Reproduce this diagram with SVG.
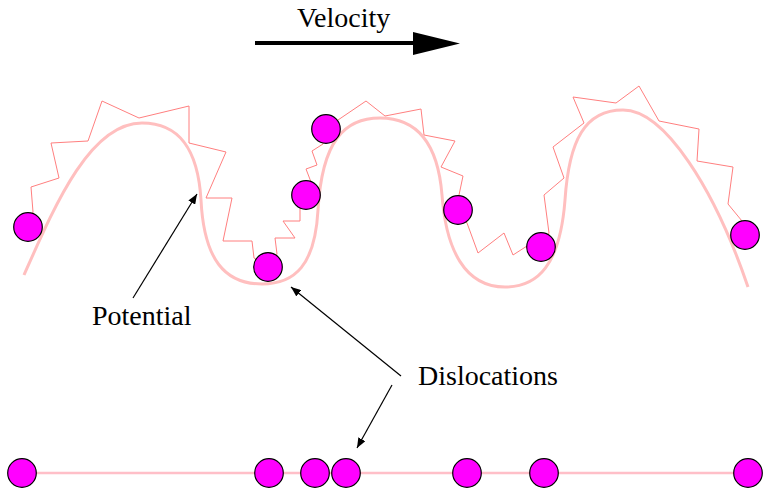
<svg xmlns="http://www.w3.org/2000/svg" width="763" height="488" viewBox="0 0 763 488">
<style>
.pot{fill:none;stroke:#ffbfbf;stroke-width:3}
.zig{fill:none;stroke:#ff7f7f;stroke-width:1}
.base{fill:none;stroke:#ffbfc8;stroke-width:2.5}
.disl{fill:#ff00ff;stroke:#000;stroke-width:1.2}
.ptr{fill:none;stroke:#000;stroke-width:1.2}
.lbl{font-family:"Liberation Serif","Times New Roman",serif;font-size:28px;fill:#000}
</style>
<defs>
<marker id="ah" markerWidth="10" markerHeight="8" refX="10" refY="4" orient="auto" markerUnits="userSpaceOnUse">
<path d="M0,0 L10,4 L0,8 Z" fill="#000"/>
</marker>
</defs>
<g id="velocity">
<line x1="255" y1="43" x2="416" y2="43" stroke="#000" stroke-width="4"/>
<polygon points="413,32 460,43.5 413,55" fill="#000"/>
<text class="lbl" x="297" y="27">Velocity</text>
</g>
<g id="potential">
<path class="pot" d="M24,275 C55,205 90,123 142,123 C180,123 198,150 201,200 C204,260 225,284 262,284 C295,284 315,265 318,210 C322,140 345,118 380,118 C418,118 438,145 442,195 C446,250 465,287 505,287 C538,287 560,265 565,200 C569,140 585,110 623,110 C665,110 715,190 748,287"/>
</g>
<g id="chain">
<polyline class="zig" points="28,227 33,212 31,187 59,178 51,143 88,141 102,101 139,118 189,106 189,143 226,152 206,198 232,198 223,241 252,241 254,258 268,267 277,254 275,238 295,238 283,221 300,221 300,209 305,195 311,182 306,169 317,165 312,151 323,144 326,129 338,120 366,101 385,116 421,109 424,135 455,141 441,167 463,176 459,195 458,210 467,223 478,253 504,233 513,255 527,246 541,247 549,233 544,195 564,178 553,147 584,123 573,97 616,103 639,86 659,121 699,129 697,161 733,167 728,204 742,221 745,235"/>
</g>
<g id="dislocations-top">
<circle class="disl" cx="28" cy="227" r="14.3"/>
<circle class="disl" cx="268" cy="267" r="14.3"/>
<circle class="disl" cx="306" cy="195" r="14.3"/>
<circle class="disl" cx="326" cy="129" r="14.3"/>
<circle class="disl" cx="458" cy="210" r="14.3"/>
<circle class="disl" cx="541" cy="247" r="14.3"/>
<circle class="disl" cx="745" cy="235" r="14.3"/>
</g>
<g id="baseline">
<line class="base" x1="22" y1="473" x2="748" y2="473"/>
</g>
<g id="dislocations-bottom">
<circle class="disl" cx="22" cy="473" r="14.3"/>
<circle class="disl" cx="269" cy="473" r="14.3"/>
<circle class="disl" cx="315" cy="473" r="14.3"/>
<circle class="disl" cx="346" cy="473" r="14.3"/>
<circle class="disl" cx="467" cy="473" r="14.3"/>
<circle class="disl" cx="544" cy="473" r="14.3"/>
<circle class="disl" cx="748" cy="473" r="14.3"/>
</g>
<g id="labels">
<text class="lbl" x="92" y="325">Potential</text>
<text class="lbl" x="418" y="385">Dislocations</text>
</g>
<g id="connectors">
<line class="ptr" x1="133" y1="298" x2="197" y2="194" marker-end="url(#ah)"/>
<line class="ptr" x1="401" y1="376" x2="291" y2="287" marker-end="url(#ah)"/>
<line class="ptr" x1="392" y1="385" x2="357" y2="448" marker-end="url(#ah)"/>
</g>
</svg>
